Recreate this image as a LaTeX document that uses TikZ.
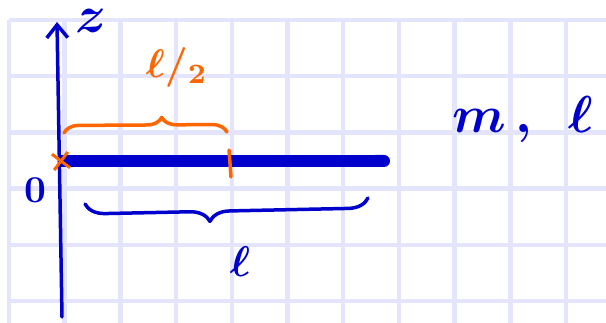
\RequirePackage{fix-cm}
\documentclass[tikz,border=0pt]{standalone}
\usetikzlibrary{decorations.pathreplacing, shapes.misc, arrows.meta, positioning}
\definecolor{gridlav}{RGB}{228,228,253}
\definecolor{inkblue}{RGB}{0,0,205}
\definecolor{inkorange}{RGB}{255,102,0}
\newcommand{\handtext}[2]{\scalebox{#1}{\boldmath$#2$}}

\begin{document}
\begin{tikzpicture}[
  x=1pt, y=-1pt,
  gridline/.style={
    draw=gridlav,
    line width=4.5pt
  },
  ink/.style={
    draw=inkblue,
    line width=3.5pt,
    line cap=round,
    line join=round
  },
  orangeink/.style={
    draw=inkorange,
    line width=3.5pt,
    line cap=round,
    line join=round
  },
  rod/.style={draw=inkblue, line width=12pt, line cap=butt, -{Round Cap}},
  bluebrace/.style={ink, decorate, decoration={brace, mirror, amplitude=20pt, aspect=0.44}},
  orangebrace/.style={orangeink, decorate, decoration={brace, amplitude=15pt, aspect=0.6}},
  lbl/.style={inner sep=0pt, text=inkblue}
]

\useasboundingbox (0,0) rectangle (606,323);
\foreach \i in {0,...,10}
  \draw[gridline] ({9+55.7*\i},20) -- ({9+55.7*\i},323);
\foreach \j in {0,...,5}
  \draw[gridline] (9,{20+56.2*\j}) -- (606,{20+56.2*\j});

\coordinate (axisbot) at (62,317);
\coordinate (axistop) at (57,22);
\coordinate (O) at (61,161);
\coordinate (rodend) at (390,161);
\coordinate (halftop) at (229,150);
\coordinate (halfbot) at (231,177);
\coordinate (hbleft) at (64,133);
\coordinate (hbright) at (227,132);
\coordinate (lbleft) at (85,204);
\coordinate (lbright) at (368,198);

\draw[rod] (O) -- (rodend);
\draw[ink, -{Straight Barb[length=13pt, width=21pt]}] (axisbot) -- (axistop);
\node[cross out, draw=inkorange, line width=3pt, minimum size=13pt, inner sep=0pt, rotate=8] (origin) at (O) {};
\draw[orangeink] (halftop) -- (halfbot);
\draw[orangebrace] (hbleft) -- (hbright);
\draw[bluebrace] (lbleft) -- (lbright);

\node[lbl] (zlabel) at (91,21) {\handtext{5.2}{z}};
\node[lbl] (zero) at (35,190) {\handtext{3.8}{0}};
\node[inner sep=0pt, text=inkorange] (halflabel) at (177,68) {\handtext{4}{\ell/_{2}}};
\node[lbl] (lenlabel) at (240,262) {\handtext{4.3}{\ell}};
\node[lbl, anchor=base west] (masslabel) at (452,133) {\handtext{5.2}{m\,,\enskip\ell}};

\end{tikzpicture}
\end{document}
